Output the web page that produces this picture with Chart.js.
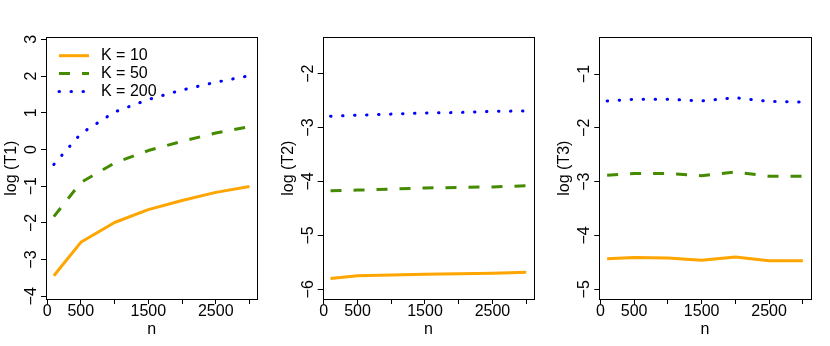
<!DOCTYPE html>
<html><head><meta charset="utf-8">
<script src="https://cdn.jsdelivr.net/npm/chart.js@4.4.0/dist/chart.umd.min.js"></script>
<style>
html,body{margin:0;padding:0;background:#fff;}
#wrap{position:relative;width:830px;height:346px;background:#fff;}
#wrap canvas{position:absolute;left:0;top:0;}
</style></head><body>
<div id="wrap">
<canvas id="c1" width="830" height="346"></canvas>
<canvas id="c2" width="830" height="346"></canvas>
<canvas id="c3" width="830" height="346"></canvas>
</div>
<script>
// ---- data ----
const nValues = [100, 500, 1000, 1500, 2000, 2500, 3000];
const seriesLabels = ['K = 10', 'K = 50', 'K = 200'];

const t1K10  = [-3.44, -2.53, -1.99, -1.64, -1.39, -1.17, -1.01];
const t1K50  = [-1.83, -0.90, -0.37, -0.03, 0.22, 0.45, 0.62];
const t1K200 = [-0.41, 0.43, 1.02, 1.36, 1.62, 1.83, 2.01];

const t2K10  = [-5.80, -5.75, -5.735, -5.72, -5.71, -5.70, -5.685];
const t2K50  = [-4.17, -4.16, -4.14, -4.12, -4.11, -4.10, -4.08];
const t2K200 = [-2.79, -2.77, -2.75, -2.73, -2.72, -2.70, -2.69];

const t3K10  = [-4.43, -4.41, -4.42, -4.46, -4.40, -4.47, -4.47];
const t3K50  = [-2.88, -2.85, -2.85, -2.89, -2.82, -2.90, -2.90];
const t3K200 = [-1.50, -1.47, -1.47, -1.50, -1.44, -1.51, -1.52];

const xTickValues = [0, 500, 1000, 1500, 2000, 2500, 3000];
const xTickLabels = ['0', '500', '', '1500', '', '2500', ''];
const yTicks1 = [-4, -3, -2, -1, 0, 1, 2, 3];
const yTicks2 = [-6, -5, -4, -3, -2];
const yTicks3 = [-5, -4, -3, -2, -1];
const yTitles = ['log (T1)', 'log (T2)', 'log (T3)'];

// ---- styling ----
const FONT = "'Liberation Sans', Arial, Helvetica, sans-serif";
const colors = ['#FFA500', '#458B00', '#0000FF'];
const dashes = [[], [11, 12], [0.5, 11.5]];
const caps = ['butt', 'butt', 'round'];

const plotTop = 37.3, plotBottom = 299;
const panelLefts = [46, 322.7, 599.3];
const panelRights = [257.3, 534, 810.7];
const Y_AXIS_W = 44, X_AXIS_H = 40.2;

const boxPlugin = {
  id: 'rbox',
  afterDraw(chart) {
    const ctx = chart.ctx, a = chart.chartArea;
    ctx.save();
    ctx.strokeStyle = '#000';
    ctx.lineWidth = 1;
    ctx.setLineDash([]);
    const l = Math.round(a.left) + 0.5, t = Math.round(a.top) + 0.5;
    const r = Math.round(a.right) + 0.5, b = Math.round(a.bottom) + 0.5;
    ctx.strokeRect(l, t, r - l, b - t);
    // rotated y tick labels (R style, las = 0)
    const ys = chart.scales.y;
    ctx.fillStyle = '#000';
    ctx.font = '16px ' + FONT;
    ctx.textAlign = 'center';
    ctx.textBaseline = 'alphabetic';
    ys.ticks.forEach(tk => {
      const py = ys.getPixelForValue(tk.value);
      ctx.save();
      ctx.translate(a.left - 10, py);
      ctx.rotate(-Math.PI / 2);
      ctx.fillText(String(tk.value).replace('-', '\u2212'), 0, 0);
      ctx.restore();
    });
    ctx.restore();
  }
};

const legendPlugin = {
  id: 'rlegend',
  afterDraw(chart, args, opts) {
    if (!opts.show) return;
    const ctx = chart.ctx;
    const rows = [55.7, 73.5, 91.5];
    ctx.save();
    chart.data.datasets.forEach((ds, i) => {
      ctx.beginPath();
      ctx.strokeStyle = ds.borderColor;
      ctx.lineWidth = ds.borderWidth;
      ctx.setLineDash(ds.borderDash || []);
      ctx.lineCap = ds.borderCapStyle || 'butt';
      ctx.moveTo(59, rows[i]);
      ctx.lineTo(89, rows[i]);
      ctx.stroke();
      ctx.setLineDash([]);
      ctx.fillStyle = '#000';
      ctx.font = '16px ' + FONT;
      ctx.textAlign = 'left';
      ctx.textBaseline = 'middle';
      ctx.fillText(ds.label, 101, rows[i]);
    });
    ctx.restore();
  }
};

function makeChart(id, idx, series, yTicks, yMin, yMax, showLegend) {
  const datasets = series.map((vals, i) => ({
    label: seriesLabels[i],
    data: nValues.map((n, j) => ({ x: n, y: vals[j] })),
    borderColor: colors[i],
    backgroundColor: colors[i],
    borderWidth: 3,
    borderDash: dashes[i],
    borderCapStyle: caps[i],
    borderJoinStyle: 'round',
    pointRadius: 0,
    tension: 0,
    fill: false
  }));
  const left = panelLefts[idx], right = panelRights[idx];
  return new Chart(document.getElementById(id), {
    type: 'line',
    data: { datasets },
    options: {
      responsive: false,
      animation: false,
      devicePixelRatio: 1,
      events: [],
      layout: {
        padding: {
          left: left - Y_AXIS_W,
          right: 830 - right,
          top: plotTop,
          bottom: 346 - plotBottom - X_AXIS_H
        }
      },
      plugins: {
        legend: { display: false },
        tooltip: { enabled: false },
        rlegend: { show: showLegend }
      },
      scales: {
        x: {
          type: 'linear',
          min: -16, max: 3116,
          afterBuildTicks: s => { s.ticks = xTickValues.map(v => ({ value: v })); },
          afterFit: s => { s.height = X_AXIS_H; },
          border: { display: false },
          grid: { drawOnChartArea: false, drawTicks: true, tickLength: 5, color: '#000', tickColor: '#000' },
          ticks: {
            autoSkip: false, maxRotation: 0, minRotation: 0, padding: -2,
            color: '#000', font: { family: FONT, size: 16 },
            callback: v => xTickLabels[xTickValues.indexOf(v)]
          },
          title: { display: true, text: 'n', color: '#000', font: { family: FONT, size: 16 }, padding: 0 }
        },
        y: {
          type: 'linear',
          min: yMin, max: yMax,
          afterBuildTicks: s => { s.ticks = yTicks.map(v => ({ value: v })); },
          afterFit: s => { s.width = Y_AXIS_W; },
          border: { display: false },
          grid: { drawOnChartArea: false, drawTicks: true, tickLength: 5, color: '#000', tickColor: '#000' },
          ticks: { display: false },
          title: { display: true, text: yTitles[idx], color: '#000', font: { family: FONT, size: 16 }, padding: 0 }
        }
      }
    },
    plugins: [boxPlugin, legendPlugin]
  });
}

makeChart('c1', 0, [t1K10, t1K50, t1K200], yTicks1, -4.074, 3.055, true);
makeChart('c2', 1, [t2K10, t2K50, t2K200], yTicks2, -6.18, -1.325, false);
makeChart('c3', 2, [t3K10, t3K50, t3K200], yTicks3, -5.18, -0.318, false);
</script>
</body></html>
